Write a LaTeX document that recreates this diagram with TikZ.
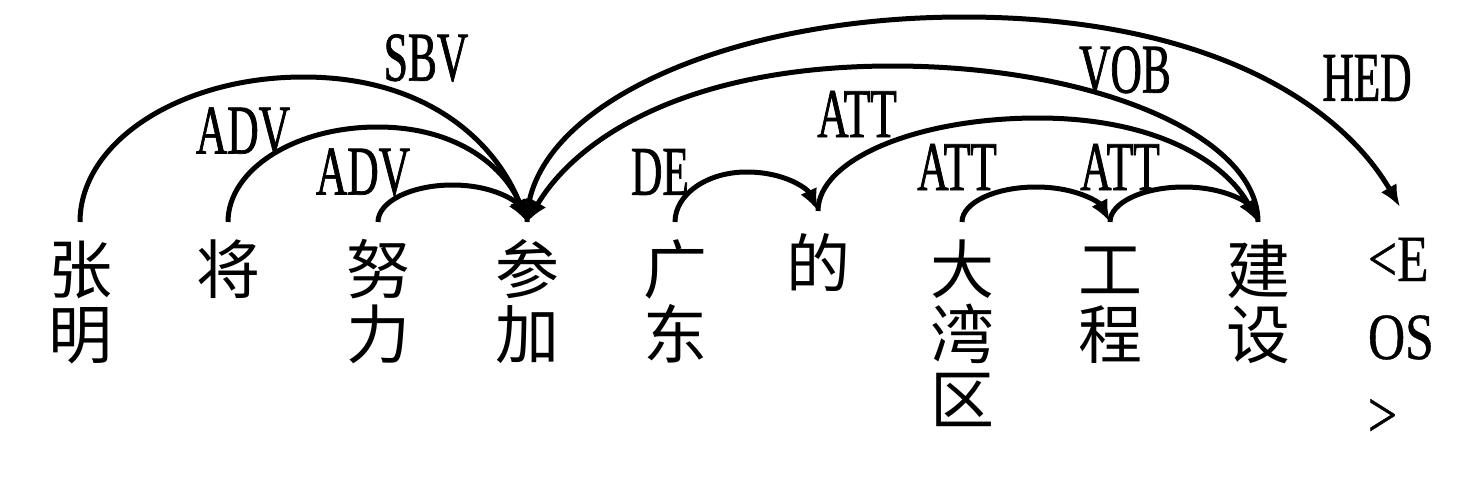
\documentclass[tikz,border=0pt]{standalone}
\usepackage{fontspec}
\newfontfamily\cjk{Noto Sans CJK SC}
\newfontfamily\lab[FakeStretch=0.62,FakeBold=1]{Liberation Serif}
\newfontfamily\eos[FakeStretch=0.78,FakeBold=0.6]{Liberation Serif}
\usetikzlibrary{arrows.meta}
% dependency arc from node point #1 (at x=#3, y=#5 px) to node point #2 (at x=#4, y=#6 px), top at y=#7 px
\newcommand\deparc[7]{%
  \draw[dep] (#1)
    .. controls ({#3}, {#5-0.5523*(#5-#7)}) and ({(#3+#4)/2-0.5523*(#4-#3)/2}, {#7})
    .. ({(#3+#4)/2}, {#7})
    .. controls ({(#3+#4)/2+0.5523*(#4-#3)/2}, {#7}) and ({#4-0.14*(#4-#3)/2}, {#6-0.5523*(#6-#7)})
    .. (#2);}
\begin{document}
\begin{tikzpicture}[x=0.5pt,y=-0.5pt,
  word/.style={font={\cjk\fontsize{32}{32.5}\selectfont}, text width=32pt, align=left,
    inner sep=0pt, outer sep=0pt, anchor=north,
    execute at begin node={\rule{0pt}{27pt}}},
  eosword/.style={font={\eos\fontsize{33}{39}\selectfont}, text width=32pt, align=left,
    inner sep=0pt, outer sep=0pt, anchor=north,
    execute at begin node={\rule{0pt}{24pt}}},
  rel/.style={font={\lab\fontsize{35}{35}\selectfont}, inner sep=0pt},
  dep/.style={line width=2.5pt, -{Latex[length=11pt,width=9pt]}},
]
\useasboundingbox (0,0) rectangle (1473,498);

% words
\node[word] (w1) at (80,239) {张\\明};
\node[word] (w2) at (228,239) {将};
\node[word] (w3) at (378,239) {努\\力};
\node[word] (w4) at (527,239) {参\\加};
\node[word] (w5) at (675,239) {广\\东};
\node[word] (w6) at (818,233) {的};
\node[word] (w7) at (962,239) {大\\湾\\区};
\node[word] (w8) at (1110,239) {工\\程};
\node[word] (w9) at (1258,239) {建\\设};
\node[eosword] (w10) at (1400,233) {<E\\OS\\>};

% attachment points (y = 222 px; 的 211 px; EOS 207 px)
\coordinate (a1) at ([yshift=8.5pt]w1.north);
\coordinate (a2) at ([yshift=8.5pt]w2.north);
\coordinate (a3) at ([yshift=8.5pt]w3.north);
\coordinate (a4) at ([yshift=8.5pt]w4.north);
\coordinate (a5) at ([yshift=8.5pt]w5.north);
\coordinate (a6) at ([yshift=11pt]w6.north);
\coordinate (a7) at ([yshift=8.5pt]w7.north);
\coordinate (a8) at ([yshift=8.5pt]w8.north);
\coordinate (a9) at ([yshift=8.5pt]w9.north);
\coordinate (a10) at ([yshift=13pt]w10.north);

% arcs
\deparc{a1}{a4}{80}{527}{222}{222}{77}
\deparc{a2}{a4}{228}{527}{222}{222}{127}
\deparc{a3}{a4}{378}{527}{222}{222}{185}
\deparc{a9}{a4}{1258}{527}{222}{222}{66}
\deparc{a4}{a10}{527}{1400}{222}{207}{17}
\deparc{a5}{a6}{675}{818}{222}{211}{172}
\deparc{a6}{a9}{818}{1258}{211}{222}{118}
\deparc{a7}{a8}{962}{1110}{222}{222}{187}
\deparc{a8}{a9}{1110}{1258}{222}{222}{187}

% relation labels
\node[rel] (l1) at (426,58) {SBV};
\node[rel] (l2) at (243,131) {ADV};
\node[rel] (l3) at (363,172) {ADV};
\node[rel] (l4) at (660,172) {DE};
\node[rel] (l5) at (857,114) {ATT};
\node[rel] (l6) at (957,167) {ATT};
\node[rel] (l7) at (1120,167) {ATT};
\node[rel] (l8) at (1125,70) {VOB};
\node[rel] (l9) at (1367,78) {HED};
\end{tikzpicture}
\end{document}
